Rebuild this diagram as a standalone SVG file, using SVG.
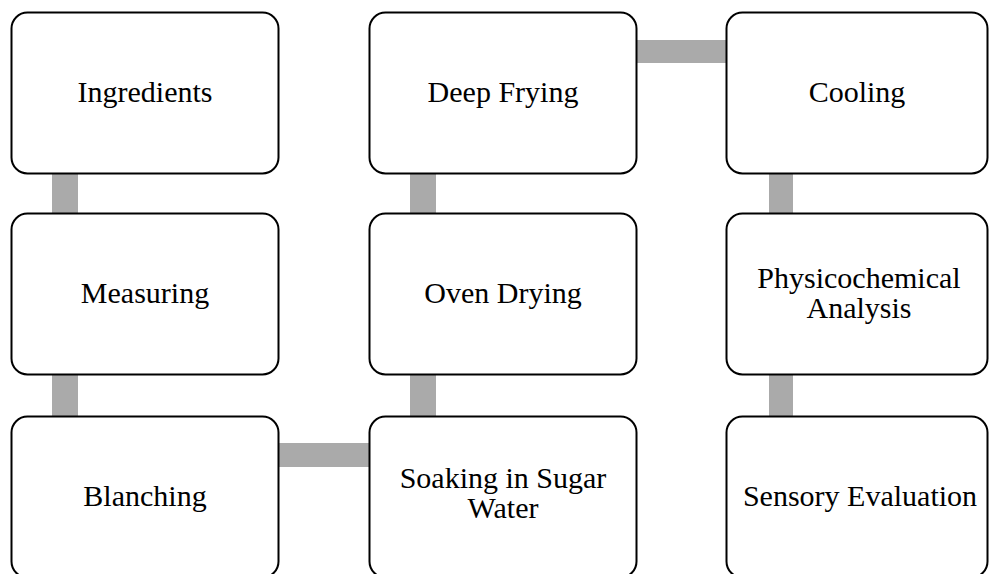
<svg xmlns="http://www.w3.org/2000/svg" width="989" height="574" viewBox="0 0 989 574">
<style>
.box{fill:#fff;stroke:#000;stroke-width:2}
.lbl{font-family:"Liberation Serif","Times New Roman",serif;font-size:30px;fill:#000;text-anchor:middle}
.bar{fill:#aaaaaa}
</style>
<rect width="989" height="574" fill="#fff"/>
<g id="connectors">
<rect class="bar" x="52" y="170" width="26" height="48"/>
<rect class="bar" x="52" y="371" width="26" height="50"/>
<rect class="bar" x="410" y="170" width="26" height="48"/>
<rect class="bar" x="410" y="371" width="26" height="50"/>
<rect class="bar" x="769" y="170" width="24" height="48"/>
<rect class="bar" x="769" y="371" width="24" height="50"/>
<rect class="bar" x="633" y="40" width="98" height="23"/>
<rect class="bar" x="275" y="443" width="99" height="24"/>
</g>
<g id="ingredients"><rect class="box" x="11.5" y="12.5" width="267" height="161" rx="16"/><text class="lbl" x="145" y="102">Ingredients</text></g>
<g id="measuring"><rect class="box" x="11.5" y="213.5" width="267" height="161" rx="16"/><text class="lbl" x="145" y="303">Measuring</text></g>
<g id="blanching"><rect class="box" x="11.5" y="416.5" width="267" height="161" rx="16"/><text class="lbl" x="145" y="506">Blanching</text></g>
<g id="deep-frying"><rect class="box" x="369.5" y="12.5" width="267" height="161" rx="16"/><text class="lbl" x="503" y="102">Deep Frying</text></g>
<g id="oven-drying"><rect class="box" x="369.5" y="213.5" width="267" height="161" rx="16"/><text class="lbl" x="503" y="303">Oven Drying</text></g>
<g id="soaking"><rect class="box" x="369.5" y="416.5" width="267" height="161" rx="16"/><text class="lbl" x="503" y="488">Soaking in Sugar</text><text class="lbl" x="503" y="518">Water</text></g>
<g id="cooling"><rect class="box" x="726.5" y="12.5" width="261" height="161" rx="16"/><text class="lbl" x="857" y="102">Cooling</text></g>
<g id="physicochemical"><rect class="box" x="726.5" y="213.5" width="261" height="161" rx="16"/><text class="lbl" x="859" y="288">Physicochemical</text><text class="lbl" x="859" y="318">Analysis</text></g>
<g id="sensory"><rect class="box" x="726.5" y="416.5" width="261" height="161" rx="16"/><text class="lbl" x="860" y="506">Sensory Evaluation</text></g>
</svg>
